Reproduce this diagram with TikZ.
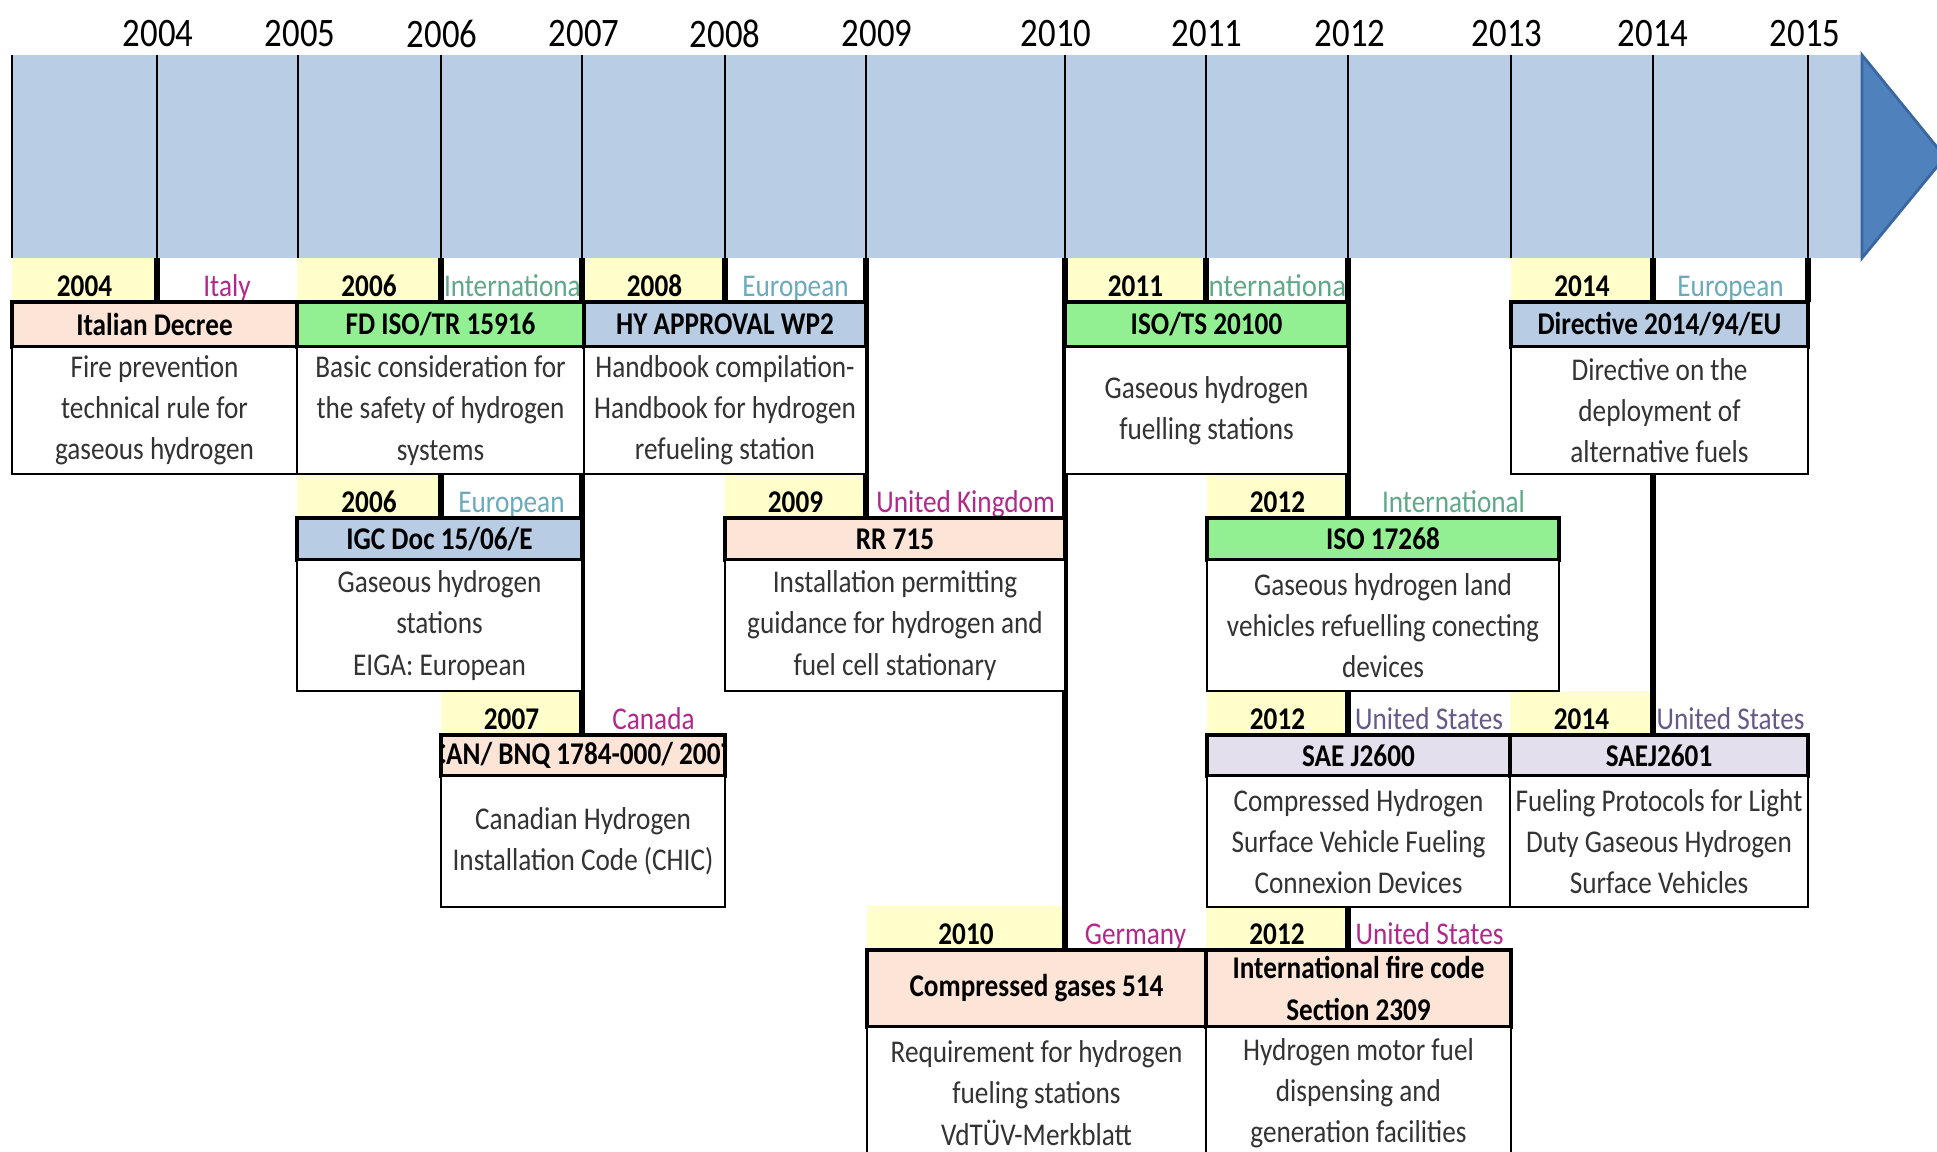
\documentclass[tikz,border=0pt]{standalone}
\usepackage{fontspec}
\setmainfont{Carlito}[FakeStretch=0.86]
\usetikzlibrary{calc}

\definecolor{bannerblue}{HTML}{B9CDE5}
\definecolor{arrowblue}{HTML}{4F81BD}
\definecolor{arrowedge}{HTML}{3B67A0}
\definecolor{labelyellow}{HTML}{FFFFCC}
\definecolor{headpeach}{HTML}{FCE4D6}
\definecolor{headgreen}{HTML}{92F092}
\definecolor{headblue}{HTML}{B8CCE4}
\definecolor{headlilac}{HTML}{E4DFEC}
\definecolor{countrypink}{HTML}{B3288A}
\definecolor{intlgreen}{HTML}{5FA888}
\definecolor{eurocyan}{HTML}{6AAABB}
\definecolor{usgrey}{HTML}{66598A}
\definecolor{bodygrey}{HTML}{333333}

\newcommand{\cellfont}{\fontsize{9}{11.7}\selectfont}
% one spreadsheet cell, given by its pixel corners
\NewDocumentCommand{\sheetcell}{O{} m m m m m m}{%
  \node[#1, minimum width={(#5-#3)*0.01cm}, minimum height={(#6-#4)*0.01cm}]
    (#2) at ({(#3+#5)/2},{(#4+#6)/2}) {#7};}

\begin{document}
\begin{tikzpicture}[x=0.01cm, y=-0.01cm,
    cell/.style={inner sep=0pt, outer sep=0pt, font=\cellfont, align=center},
    lowtext/.style={text height=9.2pt, text depth=0pt},
    yearcell/.style={cell, lowtext, fill=labelyellow, font=\cellfont\bfseries},
    placecell/.style={cell, lowtext, fill=white},
    headcell/.style={cell, draw, line width=0.9pt, font=\cellfont\bfseries},
    bodycell/.style={cell, draw, line width=0.7pt, fill=white, text=bodygrey},
    stem/.style={line width=1.6pt},
    tick/.style={line width=0.5pt},
    yearlabel/.style={font=\fontsize{11.5}{14}\selectfont}]
  \useasboundingbox (0,0) rectangle (1937,1152);
  \clip (0,0) rectangle (1937,1152);

  % time banner
  \sheetcell[cell, fill=bannerblue]{banner}{12}{55}{1862}{258}{}
  \coordinate (tip) at (1945,157);
  \filldraw[fill=arrowblue, draw=arrowedge, line width=0.8pt]
    (banner.north east) -- (tip) -- (banner.south east) -- cycle;
  \draw[tick] (banner.north west) -- (banner.south west);
  \foreach \yr/\x/\lx in {2004/157/158, 2005/298/300, 2006/441/442, 2007/582/584,
      2008/725/725, 2009/866/877, 2010/1065/1056, 2011/1206/1207, 2012/1348/1350,
      2013/1511/1507, 2014/1653/1653, 2015/1808/1805} {
    \draw[tick] (\x,55) -- (\x,258);
    \coordinate (t\yr) at (\x,258);
    \node[yearlabel] (l\yr) at (\lx,34) {\yr};
  }

  % year / country cells
  \sheetcell[yearcell]{y2004}{12}{258}{157}{302}{2004}
  \sheetcell[placecell, text=countrypink]{p2004}{157}{258}{297}{302}{Italy}
  \sheetcell[yearcell]{y2006a}{297}{258}{441}{302}{2006}
  \sheetcell[placecell]{p2006a}{441}{258}{584}{302}{}
  \sheetcell[yearcell]{y2008}{584}{258}{725}{302}{2008}
  \sheetcell[placecell, text=eurocyan]{p2008}{725}{258}{866}{302}{European}
  \sheetcell[yearcell]{y2011}{1065}{258}{1206}{302}{2011}
  \sheetcell[placecell]{p2011}{1206}{258}{1348}{302}{}
  \sheetcell[yearcell]{y2014a}{1511}{258}{1653}{302}{2014}
  \sheetcell[placecell, text=eurocyan]{p2014a}{1653}{258}{1808}{302}{European}

  \sheetcell[yearcell]{y2006b}{297}{474}{441}{518}{2006}
  \sheetcell[placecell, text=eurocyan]{p2006b}{441}{474}{582}{518}{European}
  \sheetcell[yearcell]{y2009}{725}{474}{866}{518}{2009}
  \sheetcell[placecell, text=countrypink]{p2009}{866}{474}{1065}{518}{United Kingdom}
  \sheetcell[yearcell]{y2012b}{1207}{474}{1348}{518}{2012}
  \sheetcell[placecell, text=intlgreen]{p2012b}{1348}{474}{1559}{518}{International}

  \sheetcell[yearcell]{y2007}{441}{691}{582}{735}{2007}
  \sheetcell[placecell, text=countrypink]{p2007}{582}{691}{725}{735}{Canada}
  \sheetcell[yearcell]{y2012c}{1207}{691}{1348}{735}{2012}
  \sheetcell[placecell, text=usgrey]{p2012c}{1348}{691}{1510}{735}{United States}
  \sheetcell[yearcell]{y2014c}{1510}{691}{1653}{735}{2014}
  \sheetcell[placecell, text=usgrey]{p2014c}{1653}{691}{1808}{735}{United States}

  \sheetcell[yearcell]{y2010}{867}{906}{1065}{950}{2010}
  \sheetcell[placecell, text=countrypink]{p2010}{1065}{906}{1206}{950}{Germany}
  \sheetcell[yearcell]{y2012d}{1206}{906}{1348}{950}{2012}
  \sheetcell[placecell, text=countrypink]{p2012d}{1348}{906}{1511}{950}{United States}

  % texts cut by their cells
  \begin{scope}
    \clip (p2006a.south west) rectangle (p2006a.north east);
    \node[cell, lowtext, text=intlgreen, anchor=west] (i2006) at ($(p2006a.west)+(3,0)$) {International};
  \end{scope}
  \begin{scope}
    \clip (p2011.south west) rectangle (p2011.north east);
    \node[cell, lowtext, text=intlgreen, xscale=1.06] (i2011) at (p2011) {International};
  \end{scope}

  % stems from the banner
  \draw[stem] (t2004) -- (t2004 |- y2004.south);
  \draw[stem] (t2006) -- (t2006 |- y2006b.south);
  \draw[stem] (t2007) -- (t2007 |- y2007.south);
  \draw[stem] (t2008) -- (t2008 |- y2008.south);
  \draw[stem] (t2009) -- (t2009 |- y2009.south);
  \draw[stem] (t2010) -- (t2010 |- y2010.south);
  \draw[stem] (t2011) -- (t2011 |- y2011.south);
  \draw[stem] (t2012) -- (t2012 |- y2012d.south);
  \draw[stem] (t2014) -- (t2014 |- y2014c.south);
  \draw[stem] (t2015) -- (t2015 |- p2014a.south);

  % standards: title and description
  \sheetcell[headcell, fill=headpeach]{itdec}{12}{302}{297}{347}{Italian Decree}
  \sheetcell[bodycell]{itdecb}{12}{347}{297}{474}{Fire prevention\\technical rule for\\gaseous hydrogen}
  \sheetcell[headcell, fill=headgreen]{fdiso}{297}{302}{584}{347}{FD ISO/TR 15916}
  \sheetcell[bodycell]{fdisob}{297}{347}{584}{474}{Basic consideration for\\the safety of hydrogen\\systems}
  \sheetcell[headcell, fill=headblue]{hyapp}{584}{302}{866}{347}{HY APPROVAL WP2}
  \sheetcell[bodycell]{hyappb}{584}{347}{866}{474}{Handbook compilation-\\Handbook for hydrogen\\refueling station}
  \sheetcell[headcell, fill=headgreen]{isots}{1065}{302}{1348}{347}{ISO/TS 20100}
  \sheetcell[bodycell]{isotsb}{1065}{347}{1348}{474}{Gaseous hydrogen\\fuelling stations}
  \sheetcell[headcell, fill=headblue]{direc}{1511}{302}{1808}{347}{Directive 2014/94/EU}
  \sheetcell[bodycell]{direcb}{1511}{347}{1808}{474}{Directive on the\\deployment of\\alternative fuels}

  \sheetcell[headcell, fill=headblue]{igc}{297}{518}{582}{560}{IGC Doc 15/06/E}
  \sheetcell[bodycell]{igcb}{297}{560}{582}{691}{Gaseous hydrogen\\stations\\EIGA: European}
  \sheetcell[headcell, fill=headpeach]{rr}{725}{518}{1065}{560}{RR 715}
  \sheetcell[bodycell]{rrb}{725}{560}{1065}{691}{Installation permitting\\guidance for hydrogen and\\fuel cell stationary}
  \sheetcell[headcell, fill=headgreen]{iso17}{1207}{518}{1559}{560}{ISO 17268}
  \sheetcell[bodycell]{iso17b}{1207}{560}{1559}{691}{Gaseous hydrogen land\\vehicles refuelling conecting\\devices}

  \sheetcell[headcell, fill=headpeach]{canbnq}{441}{735}{725}{776}{}
  \begin{scope}
    \clip ($(canbnq.south west)+(2,-2)$) rectangle ($(canbnq.north east)+(-2,2)$);
    \node[cell, font=\cellfont\bfseries] (canbnqt) at (canbnq) {CAN/ BNQ 1784-000/ 2007};
  \end{scope}
  \sheetcell[bodycell]{canbnqb}{441}{776}{725}{907}{Canadian Hydrogen\\Installation Code (CHIC)}
  \sheetcell[headcell, fill=headlilac]{saea}{1207}{735}{1510}{776}{SAE J2600}
  \sheetcell[bodycell]{saeab}{1207}{776}{1510}{907}{Compressed Hydrogen\\Surface Vehicle Fueling\\Connexion Devices}
  \sheetcell[headcell, fill=headlilac]{saeb}{1510}{735}{1808}{776}{SAEJ2601}
  \sheetcell[bodycell]{saebb}{1510}{776}{1808}{907}{Fueling Protocols for Light\\Duty Gaseous Hydrogen\\Surface Vehicles}

  \sheetcell[headcell, fill=headpeach]{cgas}{867}{950}{1206}{1027}{Compressed gases 514}
  \sheetcell[bodycell]{cgasb}{867}{1027}{1206}{1159}{Requirement for hydrogen\\fueling stations\\VdTÜV-Merkblatt}
  \sheetcell[headcell, fill=headpeach]{ifc}{1206}{950}{1511}{1027}{International fire code\\Section 2309}
  \sheetcell[bodycell]{ifcb}{1206}{1027}{1511}{1159}{Hydrogen motor fuel\\dispensing and\\generation facilities}
\end{tikzpicture}
\end{document}
